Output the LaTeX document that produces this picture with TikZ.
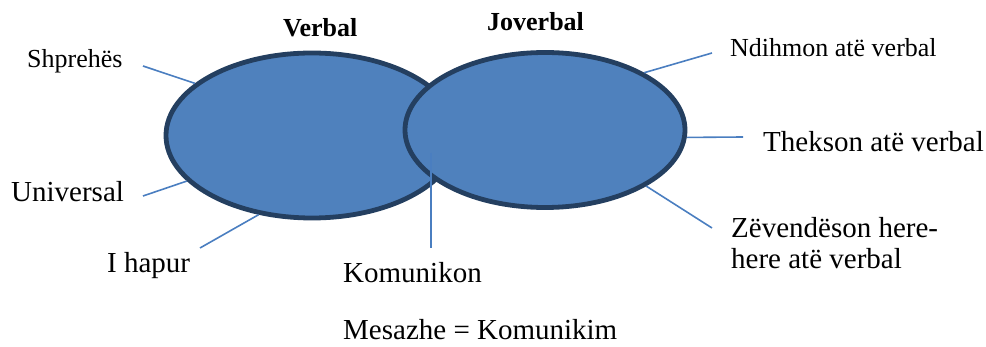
\documentclass[tikz,border=0pt]{standalone}
\usepackage{fontspec}
\setmainfont{Liberation Serif}
\usetikzlibrary{shapes.geometric}
\definecolor{fillblue}{HTML}{4F81BD}
\definecolor{edgeblue}{HTML}{243F60}
\definecolor{lineblue}{HTML}{4A7EC0}
\tikzset{
  circ/.style={ellipse, draw=edgeblue, fill=fillblue, line width=4.8pt, inner sep=0pt},
  lbl/.style={anchor=base west, inner sep=0pt, font=\fontsize{29}{31}\selectfont},
  lbls/.style={anchor=base west, inner sep=0pt, font=\fontsize{26}{28}\selectfont},
  ttl/.style={anchor=base west, inner sep=0pt, font=\fontsize{26}{28}\selectfont\bfseries},
  conn/.style={draw=lineblue, line width=1.6pt}
}
\begin{document}
\begin{tikzpicture}[x=1pt,y=-1pt]
\useasboundingbox (0,0) rectangle (986,347);
\node[circ, minimum width=292pt, minimum height=165pt] (L) at (312,135.5) {};
\node[circ, minimum width=280pt, minimum height=155pt] (R) at (545,130) {};
% labels
\node[ttl] (verbal) at (283,37) {Verbal};
\node[ttl] (joverbal) at (487,31) {Joverbal};
\node[lbls] (shp) at (27,68) {Shprehës};
\node[lbl] (uni) at (11,202) {Universal};
\node[lbl] (hap) at (107,273) {I hapur};
\node[lbl] (kom) at (343,283) {Komunikon};
\node[lbl] (mes) at (343,340) {Mesazhe = Komunikim};
\node[lbls] (ndi) at (730,57) {Ndihmon atë verbal};
\node[lbl] (the) at (763,152) {Thekson atë verbal};
\node[lbl, align=left, anchor=north west] (zev) at (731,217) {Zëvendëson here-\\here atë verbal};
% free ends
\coordinate (cshp) at (143,66);
\coordinate (cuni) at (143,196);
\coordinate (chap) at (200,248);
\coordinate (kt) at (431,153);
\coordinate (kb) at (431,248);
\coordinate (cndi) at (712,53);
\coordinate (cthe) at (743,137);
\coordinate (czev) at (712,228);
% connectors
\draw[conn] (cshp) -- (L.156);
\draw[conn] (cuni) -- (L.200);
\draw[conn] (chap) -- (L.236);
\draw[conn] (kt) -- (kb);
\draw[conn] (R.30) -- (cndi);
\draw[conn] (R.-3) -- (cthe);
\draw[conn] (R.-29) -- (czev);
\end{tikzpicture}
\end{document}
